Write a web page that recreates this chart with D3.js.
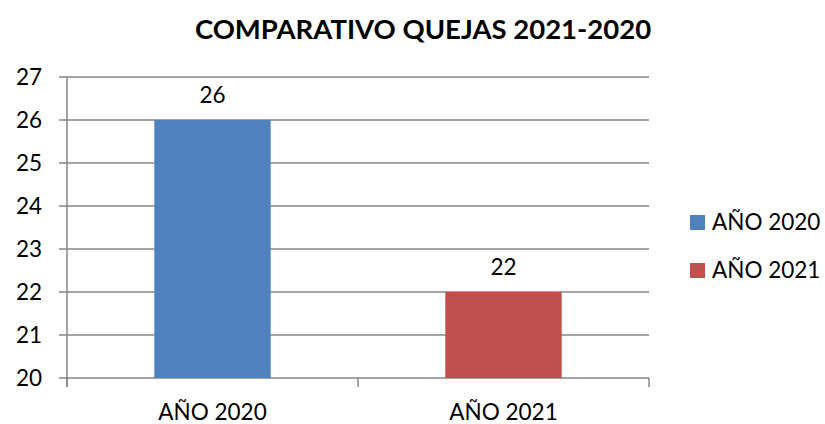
<!DOCTYPE html>
<html><head><meta charset="utf-8">
<script src="https://cdn.jsdelivr.net/npm/d3@7"></script>
<style>html,body{margin:0;padding:0;background:#fff;}svg{display:block;font-family:Lato,"Open Sans",sans-serif;}</style>
</head><body>
<svg id="c" width="825" height="424"></svg>
<script>
const title = "COMPARATIVO QUEJAS 2021-2020";
const categories = ["AÑO 2020", "AÑO 2021"];
const values = [26, 22];
const colors = ["#4F81BD", "#C0504D"];
const yTicks = [20, 21, 22, 23, 24, 25, 26, 27];

const svg = d3.select("#c");
const pLeft = 67, pRight = 649, pTop = 77, pBottom = 378;
const x = d3.scaleBand().domain(categories).range([pLeft, pRight]).paddingInner(0).paddingOuter(0);
const y = d3.scaleLinear().domain([20, 27]).range([pBottom, pTop]);
const grid = "#868686";
const fs = 22.5;

// gridlines
svg.append("g").selectAll("line").data(yTicks).join("line")
  .attr("x1", pLeft - 8).attr("x2", pRight).attr("y1", d => y(d)).attr("y2", d => y(d))
  .attr("stroke", grid).attr("stroke-width", 1.5);

// y axis line
svg.append("line").attr("x1", pLeft).attr("x2", pLeft).attr("y1", pTop).attr("y2", pBottom + 9)
  .attr("stroke", grid).attr("stroke-width", 1.5);

// category ticks
const bounds = [pLeft, ...categories.map(c => x(c) + x.bandwidth())];
svg.append("g").selectAll("line").data(bounds).join("line")
  .attr("x1", d => d).attr("x2", d => d).attr("y1", pBottom).attr("y2", pBottom + 9)
  .attr("stroke", grid).attr("stroke-width", 1.5);

// y labels
svg.append("g").selectAll("text").data(yTicks).join("text")
  .attr("x", 42).attr("y", d => y(d)).attr("dy", "0.35em").attr("text-anchor", "end")
  .attr("font-size", fs).attr("fill", "#000").text(d => d);

// bars
const bw = x.bandwidth() * 0.4;
svg.append("g").selectAll("rect").data(categories).join("rect")
  .attr("x", (d) => x(d) + (x.bandwidth() - bw) / 2)
  .attr("width", bw)
  .attr("y", (d, i) => y(values[i]))
  .attr("height", (d, i) => y(20) - y(values[i]))
  .attr("fill", (d, i) => colors[i]);

// value labels
svg.append("g").selectAll("text").data(categories).join("text")
  .attr("x", d => x(d) + x.bandwidth() / 2)
  .attr("y", (d, i) => y(values[i]) - 17)
  .attr("text-anchor", "middle").attr("font-size", fs).attr("fill", "#000")
  .text((d, i) => values[i]);

// category labels
svg.append("g").selectAll("text").data(categories).join("text")
  .attr("x", d => x(d) + x.bandwidth() / 2)
  .attr("y", 420).attr("text-anchor", "middle").attr("font-size", fs).attr("fill", "#000")
  .text(d => d);

// title
svg.append("text").attr("x", 423).attr("y", 39).attr("text-anchor", "middle")
  .attr("font-size", 27.5).attr("font-weight", "bold").attr("fill", "#000").text(title);

// legend
const lg = svg.append("g").selectAll("g").data(categories).join("g")
  .attr("transform", (d, i) => `translate(690, ${215 + i * 48})`);
lg.append("rect").attr("width", 15).attr("height", 15).attr("fill", (d, i) => colors[i]);
lg.append("text").attr("x", 22).attr("y", 7.5).attr("dy", "0.35em").attr("font-size", fs)
  .attr("fill", "#000").text(d => d);
</script>
</body></html>
